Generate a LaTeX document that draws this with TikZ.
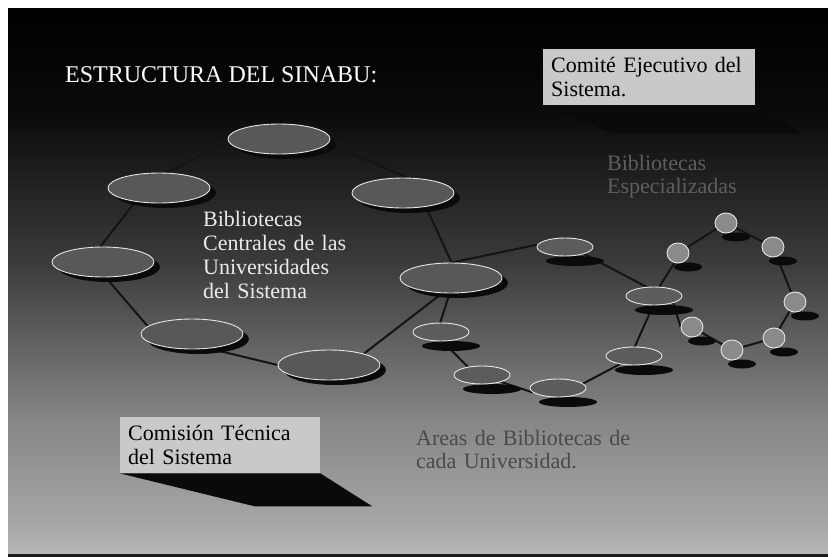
\documentclass[tikz,border=0pt]{standalone}
\usepackage{fontspec}
\setmainfont{Liberation Serif}
\usetikzlibrary{shapes.geometric}
\pgfdeclarelayer{bglayer}
\pgfdeclarelayer{edgelayer}
\pgfdeclarelayer{shadowlayer}
\pgfsetlayers{bglayer,edgelayer,shadowlayer,main}
\definecolor{bgA}{HTML}{000000}
\definecolor{bgB}{HTML}{0A0A0A}
\definecolor{bgC}{HTML}{3A3A3A}
\definecolor{bgD}{HTML}{868686}
\definecolor{bgE}{HTML}{A6A6A6}
\definecolor{bgF}{HTML}{B6B6B6}
\definecolor{elfill}{HTML}{585858}
\definecolor{medfill}{HTML}{5C5C5C}
\definecolor{cfill}{HTML}{8A8A8A}
\definecolor{shadowcol}{HTML}{0A0A0A}
\definecolor{linkcol}{HTML}{141414}
\definecolor{boxfill}{HTML}{C9C9C9}
\definecolor{esptext}{HTML}{5E5E5E}
\definecolor{areatext}{HTML}{4A4A4A}
\begin{document}
\begin{tikzpicture}[x=1pt,y=-1pt,
  bigel/.style={ellipse, draw=white!90!black, line width=0.9pt, fill=elfill, minimum width=102pt, minimum height=30pt, inner sep=0pt},
  medel/.style={ellipse, draw=white!90!black, line width=0.9pt, fill=medfill, minimum width=56pt, minimum height=18pt, inner sep=0pt},
  smallel/.style={ellipse, draw=white!90!black, line width=0.9pt, fill=cfill, minimum width=22pt, minimum height=20pt, inner sep=0pt},
  link/.style={draw=linkcol, line width=2pt},
  txt/.style={font=\fontsize{22}{24}\selectfont, inner sep=0pt, align=left},
  labelbox/.style={txt, fill=boxfill, text=black, inner xsep=8pt, inner ysep=0pt, anchor=north west},
  shadowfill/.style={fill=shadowcol}
]
\useasboundingbox (0,0) rectangle (828,557);
\begin{pgfonlayer}{bglayer}
  \fill[white] (0,0) rectangle (828,557);
  \shade[top color=bgA, bottom color=bgB] (8,8) rectangle (828,110.5);
  \shade[top color=bgB, bottom color=bgC] (8,110) rectangle (828,260.5);
  \shade[top color=bgC, bottom color=bgD] (8,260) rectangle (828,420.5);
  \shade[top color=bgD, bottom color=bgE] (8,420) rectangle (828,522.5);
  \shade[top color=bgE, bottom color=bgF] (8,522) rectangle (828,554);
  \fill[black!90] (8,554) rectangle (828,557);
\end{pgfonlayer}

% title
\node[font=\fontsize{24}{26}\selectfont, text=white, inner sep=0pt, anchor=base west] (title) at (65,82) {ESTRUCTURA DEL SINABU:};

% boxes
\node[labelbox, text width=196pt, minimum height=56pt] (comite) at (543,49) {Comité Ejecutivo del\\Sistema.};
\node[labelbox, text width=184pt, minimum height=56pt] (comision) at (120,417) {Comisión Técnica\\del Sistema};

% labels
\node[txt, text=white!92!black, anchor=base west, text width=200pt] (bibcent) at (203,226) {Bibliotecas\\Centrales de las\\Universidades\\del Sistema};
\node[txt, text=esptext, anchor=base west, text width=200pt, font=\fontsize{22}{23}\selectfont] (bibesp) at (607,170) {Bibliotecas\\Especializadas};
\node[txt, text=areatext, anchor=base west, text width=260pt, font=\fontsize{22}{23}\selectfont] (areas) at (416,445) {Areas de Bibliotecas de\\cada Universidad.};

% large ellipses
\node[bigel] (e1) at (279,139) {};
\node[bigel] (e2) at (159,188) {};
\node[bigel] (e3) at (403,193) {};
\node[bigel] (e4) at (103,262) {};
\node[bigel] (e5) at (192,334) {};
\node[bigel] (e6) at (329,365) {};
\node[bigel] (e7) at (451,278) {};
% medium ellipses
\node[medel] (e8) at (565,247) {};
\node[medel] (e9) at (654,296) {};
\node[medel] (e10) at (634,356) {};
\node[medel] (e11) at (558,388) {};
\node[medel] (e12) at (482,375) {};
\node[medel] (e13) at (441,332) {};
% small circles
\node[smallel] (c1) at (678,253) {};
\node[smallel] (c2) at (726,223) {};
\node[smallel] (c3) at (773,247) {};
\node[smallel] (c4) at (795,302) {};
\node[smallel] (c5) at (774,338) {};
\node[smallel] (c6) at (732,350) {};
\node[smallel] (c7) at (692,327) {};

% shadows
\begin{pgfonlayer}{shadowlayer}
  \fill[shadowfill] (comite.south west) -- (comite.south east) -- ([shift={(5,0)}]comite.south east) -- ([shift={(45,27)}]comite.south east) -- ([shift={(67,27)}]comite.south west) -- cycle;
  \fill[shadowfill] (comision.south west) -- (comision.south east) -- ([shift={(52,33)}]comision.south east) -- ([shift={(135,33)}]comision.south west) -- cycle;
  \foreach \n in {e1,e2,e3,e4,e5,e6,e7}
    \fill[shadowfill] ([shift={(6,5)}]\n.center) ellipse [x radius=51, y radius=15];
  \foreach \n in {e8,e9,e10,e11,e12,e13}
    \fill[shadowfill] ([shift={(10,14)}]\n.center) ellipse [x radius=29, y radius=5];
  \foreach \n in {c1,c2,c3,c4,c5,c6,c7}
    \fill[shadowfill] ([shift={(10,14)}]\n.center) ellipse [x radius=14, y radius=4.5];
\end{pgfonlayer}

% connectors
\begin{pgfonlayer}{edgelayer}
  \draw[link] (e1.183) -- (e2.63);
  \draw[link] (e2.-150) -- (e4.100);
  \draw[link] (e4.-80) -- (e5.170);
  \draw[link] (e5.-40) -- (e6.180);
  \draw[link] (e6.18) -- (e7.-120);
  \draw[link] (e1.-5) -- (e3.75);
  \draw[link] (e3.-31) -- (e7.88);
  \draw[link] (e7.88) -- (e8.175);
  \draw[link] (e7.-95) -- (e13.95);
  \draw[link] (e13.-80) -- (e12.150);
  \draw[link] (e12.-20) -- (e11.190);
  \draw[link] (e11.10) -- (e10.-150);
  \draw[link] (e10.85) -- (e9.-95);
  \draw[link] (e8.-20) -- (e9.130);
  \draw[link] (e9.60) -- (c1.-110);
  \draw[link] (e9.-20) -- (c7.180);
  \draw[link] (c1) -- (c2);
  \draw[link] (c2) -- (c3);
  \draw[link] (c3) -- (c4);
  \draw[link] (c4) -- (c5);
  \draw[link] (c5) -- (c6);
  \draw[link] (c6) -- (c7);
\end{pgfonlayer}
\end{tikzpicture}
\end{document}
